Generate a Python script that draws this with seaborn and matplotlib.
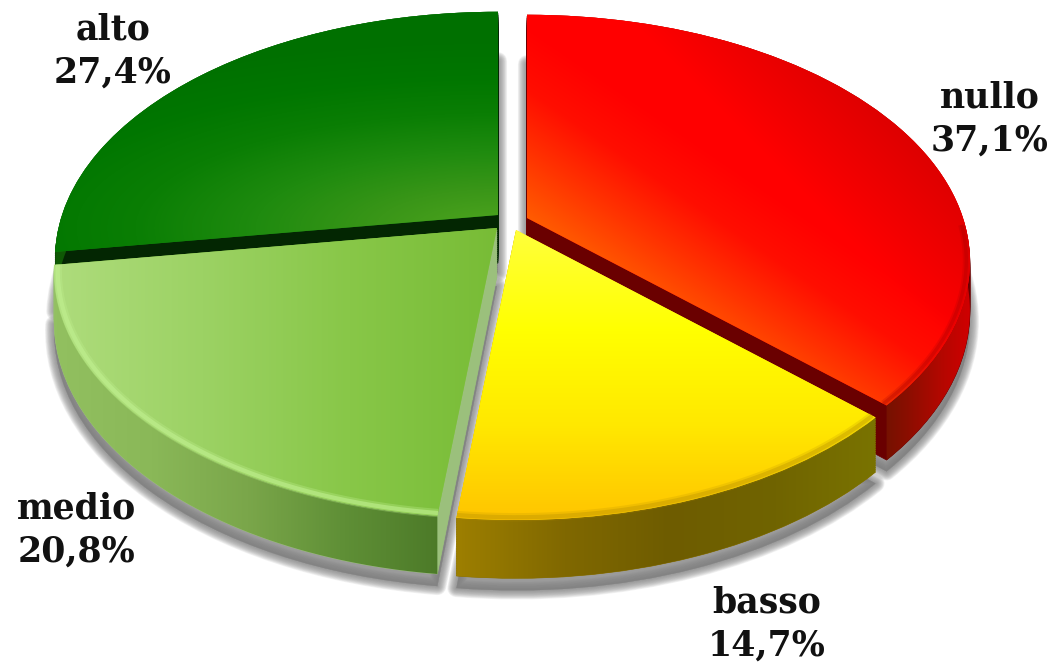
import numpy as np
import matplotlib
matplotlib.use("Agg")
import matplotlib.pyplot as plt
import matplotlib.patches as mpatches
from matplotlib.path import Path
from matplotlib.transforms import Transform
import seaborn as sns

# ---- data
categories = ["nullo", "basso", "medio", "alto"]
shares = [37.1, 14.7, 20.8, 27.4]

# ---- style / layout
apex = {"nullo": (527, 218), "basso": (516, 230), "medio": (497, 228), "alto": (498, 215)}
label_pos = {"nullo": (990, 119), "basso": (767, 624), "medio": (77, 530), "alto": (113, 51)}
cut_color = {"nullo": "#6a0000", "basso": "#8a7000", "medio": "#9bc07c", "alto": "#032602"}
base_color = {"nullo": "#ff0000", "basso": "#ffe000", "medio": "#88c848", "alto": "#108010"}
A, B, K = 436.0, 239.0, 0.176
DEPTH, SHADOW = 48.0, 58.0

sns.set_theme(style="white")
W, H = 1055, 664
fig = plt.figure(figsize=(W / 100, H / 100), dpi=100, facecolor="white")
ax = fig.add_axes([0, 0, 1, 1])
XX, YY = np.meshgrid(np.arange(W) + .5, np.arange(H) + .5)


class Projection(Transform):
    input_dims = output_dims = 2

    def __init__(self, cx, cy, z=0.0):
        super().__init__()
        self.cx, self.cy, self.z = cx, cy, z

    def transform_non_affine(self, values):
        values = np.asarray(values, float)
        u, v = values[:, 0], values[:, 1]
        d = 1 + K * v
        return np.column_stack([self.cx + A * u / d, self.cy + (self.z - B * v) / d])


def ramp(stops, t):
    lut = np.array(sns.blend_palette(stops, 256))
    return lut[(np.clip(t, 0, 1) * 255).astype(int)]


def face_field(name):
    if name == "alto":
        d = np.hypot((XX - 498) / 600, (YY - 228) / 190)
        return ramp(["#4fa51f", "#3a9618", "#1f8b0f", "#0a7e04", "#007600", "#007000"], d)
    if name == "nullo":
        perp = (XX - 527) * .464 - (YY - 218) * .886 + (XX - 527) * .14
        base = ramp(["#ff5c00", "#ff3400", "#ff0e00", "#ff0000"], perp / 170)
        s = np.clip(((XX - 600) * .7 + (230 - YY) * .7 - 170) / 120, 0, 1)[..., None]
        return base * (1 - s) + np.array([.86, 0, 0]) * s
    if name == "basso":
        return ramp(["#ffff38", "#ffff00", "#ffe800", "#ffc400"], (YY - 235) / 285)
    t = np.clip((XX - 55) / 440, 0, 1)
    return ramp(["#aedc7c", "#9cd264", "#88c748", "#78bc36"], t)


def side_field(name):
    if name == "nullo":
        return ramp(["#6a1400", "#8a0e00", "#b00800", "#d00000"], (XX - 875) / 95)
    if name == "basso":
        return ramp(["#9c7e00", "#806800", "#6e5c00", "#706400", "#7a7400"], (XX - 460) / 420)
    if name == "medio":
        return ramp(["#92c060", "#8ab858", "#7aa64a", "#5f8f36", "#4c7a28"], (XX - 55) / 385)
    return ramp(["#0f5a05", "#0a4a04"], (XX - 55) / 200)


wedges, _ = ax.pie(shares, startangle=90, counterclock=False, radius=1,
                   colors=[base_color[c] for c in categories], center=(0, 0))
wedge_of = dict(zip(categories, wedges))

# soft shadow, built from many faint strokes
for name in categories:
    w = wedge_of[name]
    for lw in np.arange(13, 0, -1.0):
        s = mpatches.Wedge((0, 0), 1, w.theta1, w.theta2, facecolor="#808080",
                           edgecolor="#808080", lw=lw, alpha=.1, zorder=1,
                           joinstyle="round")
        ax.add_patch(s)
        s.set_transform(Projection(*apex[name], SHADOW) + ax.transData)

zc = 2
rim = {"medio": [("#c0f090", 6.0, .3), ("#c0f090", 3.0, .6)],
       "basso": [("#b89000", 6.0, .2), ("#b89000", 3.0, .35)],
       "nullo": [("#a80000", 5.0, .2), ("#a80000", 2.5, .3)]}
for name in ["alto", "nullo", "medio", "basso"]:
    w = wedge_of[name]
    cx, cy = apex[name]
    # cut faces
    for z in np.arange(DEPTH, 0, -2.0):
        c = mpatches.Wedge((0, 0), 1, w.theta1, w.theta2, facecolor=cut_color[name],
                           edgecolor=cut_color[name], lw=.5, zorder=zc)
        ax.add_patch(c)
        c.set_transform(Projection(cx, cy, z) + ax.transData)
    zc += 1
    # outer side
    th = np.radians(np.linspace(w.theta1, w.theta2, 240))
    pts = np.column_stack([np.cos(th), np.sin(th)])
    top = Projection(cx, cy, 0).transform_non_affine(pts)
    bot = Projection(cx, cy, DEPTH).transform_non_affine(pts)
    poly = np.vstack([top, bot[::-1], top[:1]])
    im = ax.imshow(side_field(name), extent=(0, W, H, 0), origin="upper", aspect="auto",
                   interpolation="bilinear", zorder=zc)
    im.set_clip_path(Path(poly), ax.transData)
    zc += 1
    # top face
    w.set_transform(Projection(cx, cy, 0) + ax.transData)
    w.set_zorder(zc)
    w.set_edgecolor("none")
    zc += 1
    im = ax.imshow(face_field(name), extent=(0, W, H, 0), origin="upper", aspect="auto",
                   interpolation="bilinear", zorder=zc)
    im.set_clip_path(w)
    zc += 1
    for col, lw, al in rim.get(name, []):
        th2 = th[np.sin(th) < -.02]
        p = np.column_stack([np.cos(th2), np.sin(th2)]) * .992
        q = Projection(cx, cy, 0).transform_non_affine(p)
        ax.plot(q[:, 0], q[:, 1], color=col, lw=lw, alpha=al, zorder=zc,
                solid_capstyle="butt")
        zc += 1

# labels
for name, val in zip(categories, shares):
    x, y = label_pos[name]
    ax.text(x, y, f"{name}\n{val:.1f}%".replace(".", ","), ha="center", va="center",
            family="DejaVu Serif", fontweight="bold", fontsize=25, color="#111111",
            linespacing=1.36, zorder=zc + 1)

ax.set_xlim(0, W)
ax.set_ylim(H, 0)
ax.set_aspect("auto")
ax.set_axis_off()
fig.savefig("out.png", dpi=100, facecolor="white")
